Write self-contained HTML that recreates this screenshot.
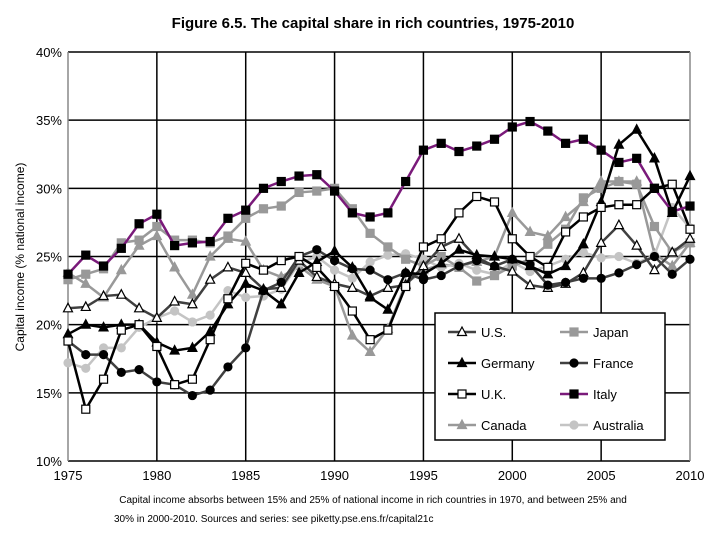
<!DOCTYPE html>
<html><head><meta charset="utf-8"><style>
body{margin:0;background:#fff;width:720px;height:540px;overflow:hidden;font-family:"Liberation Sans",Arial,sans-serif}
</style></head><body>
<svg id="chart" width="720" height="540" xmlns="http://www.w3.org/2000/svg" font-family="Liberation Sans, Arial, sans-serif">
<text x="373" y="28" text-anchor="middle" font-size="15" font-weight="bold">Figure 6.5. The capital share in rich countries, 1975-2010</text>
<text transform="translate(24,257) rotate(-90)" text-anchor="middle" font-size="12">Capital income (% national income)</text>
<text x="373" y="503" text-anchor="middle" font-size="10">Capital income absorbs between 15% and 25% of national income in rich countries in 1970, and between 25% and</text>
<text x="114" y="522" font-size="10">30% in 2000-2010. Sources and series: see piketty.pse.ens.fr/capital21c</text>
<g id="grid"></g><g id="series"></g><g id="legend"></g>
</svg>
<script>
const years=[];for(let y=1975;y<=2010;y++)years.push(y);
const yTicks=[10,15,20,25,30,35,40];
const xTicks=[1975,1980,1985,1990,1995,2000,2005,2010];
const us=[21.2,21.3,22.1,22.2,21.2,20.5,21.7,21.5,23.3,24.2,23.8,22.6,22.7,24.7,23.5,23.0,22.7,22.1,22.7,22.9,24.3,25.7,26.3,24.9,24.3,23.9,22.9,22.7,23.0,23.8,26.0,27.3,25.8,24.0,25.3,26.3];
const japan=[23.3,23.7,24.1,26.0,26.2,27.2,26.2,26.2,26.0,26.5,27.8,28.5,28.7,29.7,29.8,30.0,28.5,26.7,25.7,24.8,24.3,25.0,24.2,23.2,23.6,24.3,24.8,25.9,27.0,29.3,30.0,30.5,30.3,27.2,25.3,26.0];
const germany=[19.3,20.0,19.8,20.0,20.0,18.7,18.1,18.3,19.5,21.5,23.0,22.5,21.5,23.8,24.6,25.4,24.2,22.0,21.1,23.8,23.7,24.5,25.5,25.1,25.0,24.8,24.3,23.7,24.3,25.9,29.0,33.2,34.3,32.2,28.2,30.9];
const france=[18.8,17.8,17.8,16.5,16.7,15.8,15.6,14.8,15.2,16.9,18.3,22.5,23.1,25.0,25.5,24.7,24.1,24.0,23.3,23.8,23.3,23.6,24.3,24.7,24.3,24.8,24.4,22.9,23.1,23.4,23.4,23.8,24.4,25.0,23.7,24.8];
const uk=[18.8,13.8,16.0,19.6,20.0,18.4,15.6,16.0,18.9,21.9,24.5,24.0,24.7,25.0,24.2,22.8,21.0,18.9,19.6,22.8,25.7,26.3,28.2,29.4,29.0,26.3,25.0,24.2,26.8,27.9,28.6,28.8,28.8,30.0,30.3,27.0];
const italy=[23.7,25.1,24.3,25.6,27.4,28.1,25.8,26.0,26.1,27.8,28.4,30.0,30.5,30.9,31.0,29.8,28.2,27.9,28.2,30.5,32.8,33.3,32.7,33.1,33.6,34.5,34.9,34.2,33.3,33.6,32.8,31.9,32.2,30.0,28.3,28.7];
const canada=[23.8,23.0,22.0,24.0,25.8,26.5,24.2,22.2,25.0,26.3,26.1,24.0,23.5,24.3,23.3,22.8,19.2,18.0,19.7,23.0,24.0,24.4,24.3,24.6,25.0,28.2,26.8,26.5,27.9,29.0,30.5,30.5,30.5,25.2,24.3,26.0];
const australia=[17.2,16.8,18.3,18.3,19.8,20.5,21.0,20.2,20.7,22.5,22.0,22.1,22.6,24.5,25.0,24.0,23.4,24.6,25.1,25.2,24.8,24.2,24.5,24.0,23.7,24.6,23.9,24.3,24.8,25.3,24.9,25.0,24.5,25.1,28.6,27.1];
const X0=68,X1=690,Y0=461,Y1=52;
const xs=y=>X0+(y-1975)/35*(X1-X0);
const ys=v=>Y0-(v-10)/30*(Y0-Y1);
const NS='http://www.w3.org/2000/svg';
function mk(tag,attrs,parent){const e=document.createElementNS(NS,tag);for(const k in attrs)e.setAttribute(k,attrs[k]);parent.appendChild(e);return e;}
const grid=document.getElementById('grid');
yTicks.forEach(t=>{
 const l=mk('line',{x1:X0,x2:X1,y1:ys(t),y2:ys(t),stroke:'#000','stroke-width':1.5},grid);
 
 
 const tx=mk('text',{x:X0-6,y:ys(t)+5,'text-anchor':'end','font-size':13},grid);tx.textContent=t+'%';
 
 
});
xTicks.forEach(t=>{
 const l=mk('line',{x1:xs(t),x2:xs(t),y1:Y1,y2:Y0,stroke:t==1975||t==2010?'#888':'#000','stroke-width':1.5},grid);
 
 
 const tx=mk('text',{x:xs(t),y:Y0+19,'text-anchor':'middle','font-size':13},grid);tx.textContent=t;
 
 
});
const specs=[
 {n:'U.S.',d:us,line:'#404040',m:'tri',fill:'#fff',stroke:'#000'},
 {n:'Japan',d:japan,line:'#999',m:'sq',fill:'#999',stroke:'#999'},
 {n:'Germany',d:germany,line:'#000',m:'tri',fill:'#000',stroke:'#000'},
 {n:'France',d:france,line:'#404040',m:'circ',fill:'#000',stroke:'#000'},
 {n:'U.K.',d:uk,line:'#000',m:'sq',fill:'#fff',stroke:'#000'},
 {n:'Italy',d:italy,line:'#7a1a7a',m:'sq',fill:'#000',stroke:'#000'},
 {n:'Canada',d:canada,line:'#999',m:'tri',fill:'#999',stroke:'#999'},
 {n:'Australia',d:australia,line:'#c4c4c4',m:'circ',fill:'#c4c4c4',stroke:'#c4c4c4'}];
function marker(p,type,x,y,fill,stroke,s){
 let e;
 if(type=='sq')e=mk('rect',{x:x-s,y:y-s,width:2*s,height:2*s,fill,stroke,'stroke-width':1.2},p);
 else if(type=='circ')e=mk('circle',{cx:x,cy:y,r:s,fill,stroke,'stroke-width':1.2},p);
 else e=mk('polygon',{points:`${x},${y-s-1} ${x-s-0.5},${y+s-0.5} ${x+s+0.5},${y+s-0.5}`,fill,stroke,'stroke-width':1.2},p);
 return e;
}
const sg=document.getElementById('series');
const order=[6,7,1,0,3,2,4,5];
order.forEach(i=>{const s=specs[i];
 const g=mk('g',{},sg);
 
 
 mk('polyline',{points:s.d.map((v,j)=>xs(years[j])+','+ys(v)).join(' '),fill:'none',stroke:s.line,'stroke-width':2.5},g);
 s.d.forEach((v,j)=>{const m=marker(g,s.m,xs(years[j]),ys(v),s.fill,s.stroke,4);
  
  });
});
const lg=document.getElementById('legend');
const box=mk('rect',{x:435,y:313,width:230,height:127,fill:'#fff',stroke:'#000','stroke-width':1.5},lg);


specs.forEach((s,i)=>{
 const col=i%2,row=Math.floor(i/2);
 const x=448+col*112,y=332+row*31;
 const g=mk('g',{},lg);
 
 
 mk('line',{x1:x,x2:x+28,y1:y,y2:y,stroke:s.line,'stroke-width':2.5},g);
 marker(g,s.m,x+14,y,s.fill,s.stroke,4);
 const t=mk('text',{x:x+33,y:y+5,'font-size':13},g);t.textContent=s.n;
});
</script>
</body></html>
